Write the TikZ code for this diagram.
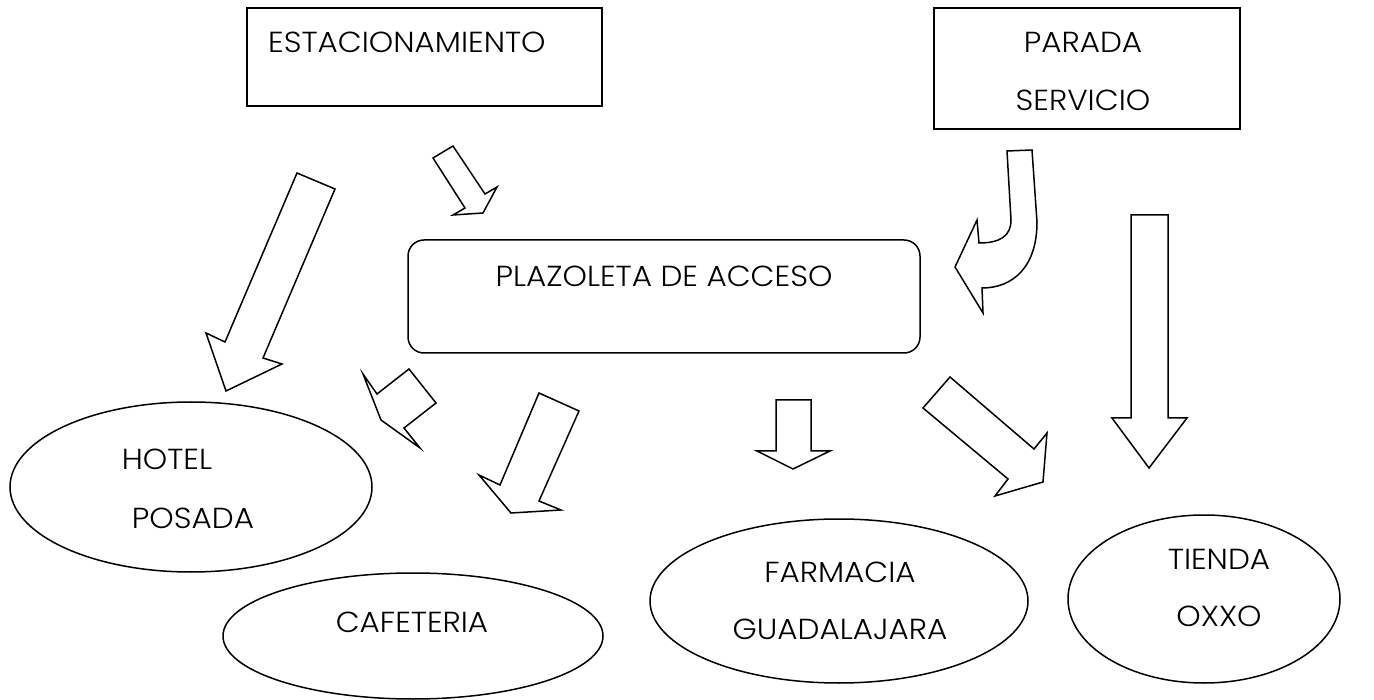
\documentclass[tikz,border=0pt]{standalone}
\usepackage{fontspec}
\setmainfont{Poppins}[UprightFont=* Light,FakeStretch=1.07]
\usetikzlibrary{shapes.geometric}
\begin{document}
\begin{tikzpicture}[x=1pt,y=-1pt,
  shape line/.style={draw=black,line width=1.5pt,line join=miter},
  blockarrow/.style={draw=black,line width=1.5pt,line join=miter,fill=white},
  lbl/.style={font=\fontsize{29}{32}\selectfont,inner sep=0pt,anchor=base}]
\useasboundingbox (0,0) rectangle (1374,700);
% boxes
\draw[shape line] (247,8) rectangle (602,106);
\node[lbl,anchor=base west] (est) at (268,53) {ESTACIONAMIENTO};
\draw[shape line] (934,8) rectangle (1240,129);
\node[lbl] (par) at (1083,53) {PARADA};
\node[lbl] (ser) at (1083,111) {SERVICIO};
\draw[shape line,rounded corners=16pt] (408,240) rectangle (920,353);
\node[lbl] (pla) at (664,287) {PLAZOLETA DE ACCESO};
% ellipses
\draw[shape line] (191,487) ellipse [x radius=181, y radius=85];
\node[lbl] (hot) at (167,470) {HOTEL};
\node[lbl] (pos) at (193,528) {POSADA};
\draw[shape line] (413,636) ellipse [x radius=190, y radius=63];
\node[lbl] (caf) at (412,632) {CAFETERIA};
\draw[shape line] (839,601) ellipse [x radius=189, y radius=82];
\node[lbl] (far) at (840,582) {FARMACIA};
\node[lbl] (gua) at (840,639) {GUADALAJARA};
\draw[shape line] (1204,599) ellipse [x radius=136, y radius=84];
\node[lbl] (tie) at (1219,569) {TIENDA};
\node[lbl] (oxx) at (1219,626) {OXXO};
% block arrows
\draw[blockarrow] (297,173) -- (335,189) -- (263,358) -- (282,364) -- (226,391) -- (206,333) -- (225,342) -- cycle;
\draw[blockarrow] (433,158) -- (453,146) -- (485,194) -- (497,187) -- (483,213) -- (453,215) -- (465,208) -- cycle;
\draw[blockarrow] (1007,151) -- (1032,150) -- (1037,222)
   .. controls (1037,268) and (1012,288) .. (982,288) -- (983,313) -- (955,267) -- (977,220) -- (979,243)
   .. controls (1000,243) and (1011,236) .. (1011,220) -- cycle;
\draw[blockarrow] (1131,215) -- (1168,215) -- (1168,418) -- (1187,418) -- (1149,468) -- (1112,418) -- (1131,418) -- cycle;
\draw[blockarrow] (409,369) -- (436,403) -- (404,428) -- (420,448) -- (381,420) -- (363,374) -- (377,394) -- cycle;
\draw[blockarrow] (539,393) -- (579,411) -- (539,501) -- (561,510) -- (511,513) -- (479,475) -- (500,485) -- cycle;
\draw[blockarrow] (776,400) -- (811,400) -- (811,451) -- (830,451) -- (793,469) -- (757,451) -- (776,451) -- cycle;
\draw[blockarrow] (950,377) -- (1034,449) -- (1047,433) -- (1043,482) -- (995,496) -- (1008,479) -- (923,408) -- cycle;
\end{tikzpicture}
\end{document}
